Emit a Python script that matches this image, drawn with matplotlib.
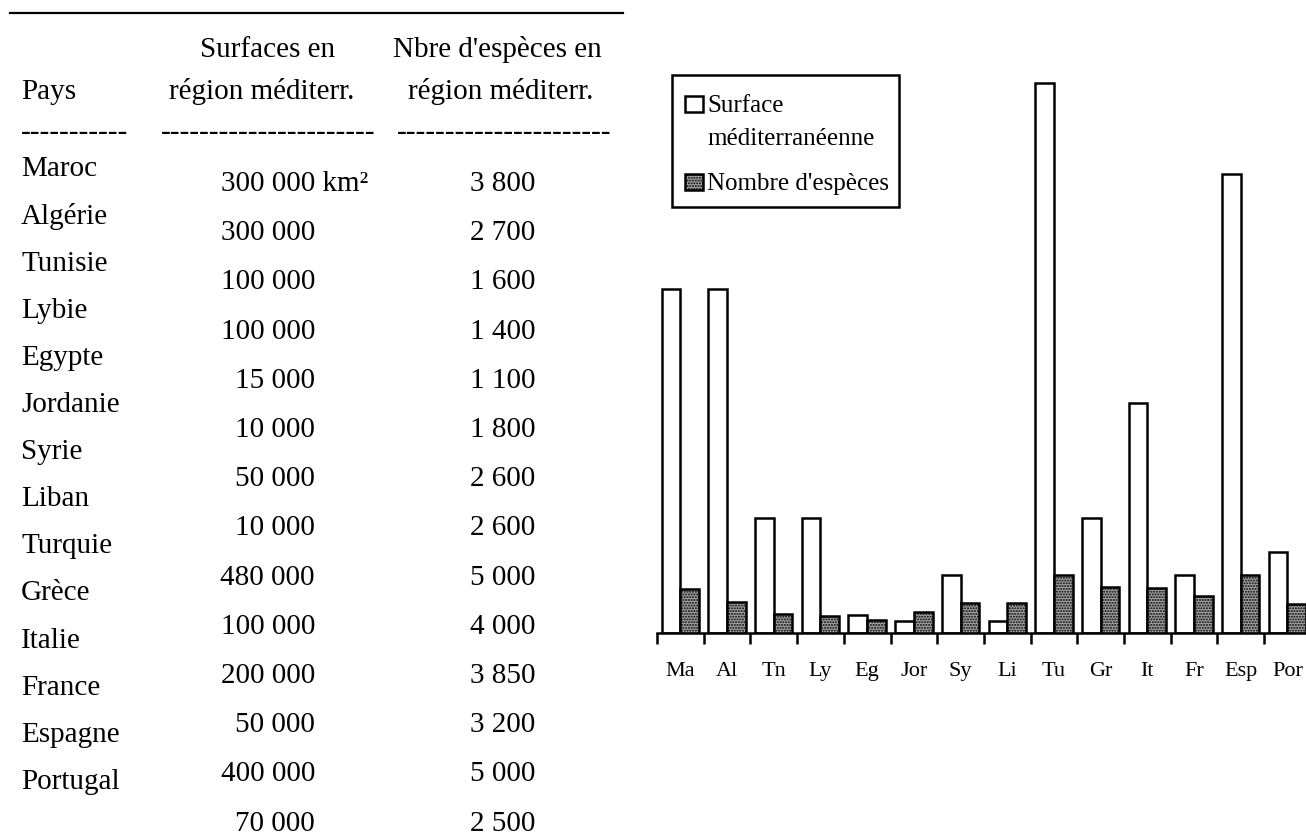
import matplotlib
matplotlib.use("Agg")
import matplotlib.pyplot as plt
from matplotlib.patches import Rectangle
from matplotlib.lines import Line2D
import numpy as np

# ---- data ----
pays = ["Maroc", "Algérie", "Tunisie", "Lybie", "Egypte", "Jordanie", "Syrie",
        "Liban", "Turquie", "Grèce", "Italie", "France", "Espagne", "Portugal"]
abrev = ["Ma", "Al", "Tn", "Ly", "Eg", "Jor", "Sy", "Li", "Tu", "Gr", "It", "Fr", "Esp", "Por"]
surfaces = [300000, 300000, 100000, 100000, 15000, 10000, 50000, 10000, 480000,
            100000, 200000, 50000, 400000, 70000]
especes = [3800, 2700, 1600, 1400, 1100, 1800, 2600, 2600, 5000, 4000, 3850, 3200, 5000, 2500]
surface_labels = ["300 000 km²", "300 000", "100 000", "100 000", "15 000", "10 000", "50 000",
                  "10 000", "480 000", "100 000", "200 000", "50 000", "400 000", "70 000"]
especes_labels = ["3 800", "2 700", "1 600", "1 400", "1 100", "1 800", "2 600", "2 600",
                  "5 000", "4 000", "3 850", "3 200", "5 000", "2 500"]
legend_labels = ["Surface\nméditerranéenne", "Nombre d'espèces"]

W, H = 1306, 839
plt.rcParams["hatch.color"] = "#6a6a6a"
plt.rcParams["hatch.linewidth"] = 1.0
fig = plt.figure(figsize=(W / 100, H / 100), dpi=100)
SERIF = ["Liberation Serif", "DejaVu Serif"]
GRAY = "#a4a4a4"
FS = 21


def P(x, y):
    return (x / W, 1 - y / H)


def T(x, y, s, size=FS, ha="left", va="baseline"):
    fig.text(*P(x, y), s, fontsize=size, family=SERIF, ha=ha, va=va, color="black")


# ---- table ----
fig.add_artist(Line2D([10 / W, 623 / W], [1 - 13 / H, 1 - 13 / H], color="black", lw=1.6))
T(21, 99, "Pays")
T(268, 57, "Surfaces en", ha="center")
T(262, 99, "région méditerr.", ha="center")
T(497, 57, "Nbre d'espèces en", ha="center")
T(501, 99, "région méditerr.", ha="center")
T(21, 140, "-" * 11)
T(161, 140, "-" * 22)
T(397, 140, "-" * 22)

row_name0, row_name_dy = 176.5, 47.1
row_val0, row_val_dy = 191.0, 49.2
for i, name in enumerate(pays):
    T(21, row_name0 + i * row_name_dy, name)
    yv = row_val0 + i * row_val_dy
    if i == 0:
        T(221, yv, surface_labels[i])
    else:
        T(315, yv, surface_labels[i], ha="right")
    T(535, yv, especes_labels[i], ha="right")

# ---- bar chart ----
cat_w = 46.7
x0_px = 657
base_px = 632.5
top_px = 82.7
ymax_val = 500000
scale = (base_px - top_px) / max(surfaces)
height_px = ymax_val * scale
n = len(abrev)
ax = fig.add_axes([x0_px / W, 1 - base_px / H, n * cat_w / W, height_px / H])
ax.set_xlim(-0.5, n - 0.5)
ax.set_ylim(0, ymax_val)
ax2 = ax.twinx()
ax2.set_ylim(0, ymax_val / 10)

x = np.arange(n)
bw = 0.4
ax.bar(x - bw / 2, surfaces, width=bw, facecolor="white", edgecolor="black", linewidth=1.8, zorder=3)
ax2.bar(x + bw / 2, especes, width=bw, facecolor=GRAY, edgecolor="black", linewidth=1.8,
        hatch="......", zorder=3)

for a in (ax, ax2):
    for s in ("top", "right", "left", "bottom"):
        a.spines[s].set_visible(False)
    a.set_yticks([])
    a.patch.set_visible(False)
ax2.xaxis.set_visible(False)
ax.spines["bottom"].set_visible(True)
ax.spines["bottom"].set_linewidth(1.8)
ax.spines["bottom"].set_zorder(5)

ax.set_xticks(x)
ax.set_xticklabels(abrev, fontsize=16, family=SERIF)
ax.tick_params(axis="x", which="major", length=0, pad=21)
ax.set_xticks(np.arange(-0.5, n, 1.0), minor=True)
ax.tick_params(axis="x", which="minor", length=8, width=1.8, direction="out")

# ---- legend ----
fig.add_artist(Rectangle(P(672, 207), 227 / W, 132 / H, facecolor="white", edgecolor="black",
                         lw=1.8, transform=fig.transFigure))
fig.add_artist(Rectangle(P(685, 112), 18 / W, 16 / H, facecolor="white", edgecolor="black",
                         lw=1.8, transform=fig.transFigure))
fig.add_artist(Rectangle(P(685, 190), 18 / W, 16 / H, facecolor=GRAY, edgecolor="black",
                         lw=1.8, hatch="......", transform=fig.transFigure))
lines0 = legend_labels[0].split("\n")
T(707, 112, lines0[0], size=18)
T(707, 145, lines0[1], size=18)
T(707, 190, legend_labels[1], size=18)

fig.savefig("out.png", dpi=100)
